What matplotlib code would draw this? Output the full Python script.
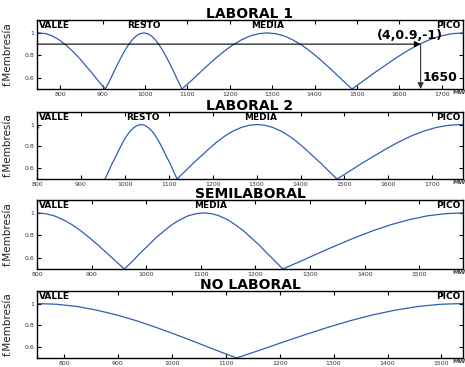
import numpy as np
import matplotlib
matplotlib.use("Agg")
import matplotlib.pyplot as plt

# membership curves (MW, membership degree)
p1_x = [745, 750, 766, 781, 797, 812, 828, 844, 859, 875, 890, 906,
        916, 925, 934, 943, 952, 961, 970, 979, 988, 997, 1006, 1015, 1024, 1033, 1042, 1051, 1060, 1069, 1078, 1087,
        1108, 1128, 1148, 1168, 1188, 1208, 1228, 1248, 1268, 1288, 1308, 1328, 1348, 1368, 1388, 1408, 1428, 1448, 1468, 1488,
        1514, 1540, 1567, 1593, 1619, 1645, 1671, 1698, 1724, 1750]
p1_y = [1.0, 1.0, .993, .973, .939, .895, .841, .779, .712, .642, .570, .50,
        .57, .642, .712, .779, .841, .895, .939, .973, .993, 1.0, .993, .973, .939, .895, .841, .779, .712, .642, .57, .50,
        .57, .642, .712, .779, .841, .895, .939, .973, .993, 1.0, .993, .973, .939, .895, .841, .779, .712, .642, .57, .50,
        .57, .642, .712, .779, .841, .895, .939, .973, .993, 1.0]

p2_x = [800, 804, np.nan,
        955, 963, 971, 980, 988, 996, 1004, 1012, 1021, 1029, 1037, 1045, 1053, 1062, 1070, 1078, 1086, 1094, 1103, 1111, 1119,
        1137, 1155, 1174, 1192, 1210, 1228, 1246, 1265, 1283, 1301, 1319, 1337, 1356, 1374, 1392, 1410, 1428, 1447, 1465, 1483,
        1511, 1539, 1568, 1596, 1624, 1652, 1680, 1709, 1737, 1765, 1770]
p2_y = [1.0, 0.97, np.nan,
        .50, .57, .642, .712, .779, .841, .895, .939, .973, .993, 1.0, .993, .973, .939, .895, .841, .779, .712, .642, .57, .50,
        .57, .642, .712, .779, .841, .895, .939, .973, .993, 1.0, .993, .973, .939, .895, .841, .779, .712, .642, .57, .50,
        .57, .642, .712, .779, .841, .895, .939, .973, .993, 1.0, 1.0]

p3_x = [800, 816, 832, 848, 864, 880, 896, 912, 928, 944, 960,
        975, 989, 1004, 1018, 1033, 1047, 1062, 1076, 1091, 1105, 1120, 1134, 1149, 1163, 1178, 1192, 1207, 1221, 1236, 1250,
        1283, 1316, 1349, 1382, 1415, 1448, 1481, 1514, 1547, 1580]
p3_y = [1.0, .993, .973, .939, .895, .841, .779, .712, .642, .570, .50,
        .57, .642, .712, .779, .841, .895, .939, .973, .993, 1.0, .993, .973, .939, .895, .841, .779, .712, .642, .57, .50,
        .57, .642, .712, .779, .841, .895, .939, .973, .993, 1.0]

p4_x = [750, 787, 824, 861, 898, 935, 972, 1009, 1046, 1083, 1120,
        1162, 1204, 1246, 1288, 1330, 1372, 1414, 1456, 1498, 1540]
p4_y = [1.0, .993, .973, .939, .895, .841, .779, .712, .642, .570, .50,
        .57, .642, .712, .779, .841, .895, .939, .973, .993, 1.0]

titles = ["LABORAL 1", "LABORAL 2", "SEMILABORAL", "NO LABORAL"]
xlims = [(745, 1750), (800, 1770), (800, 1580), (750, 1540)]
xtick_max = [1700, 1700, 1500, 1500]

# period labels: (text, x in MW) ; None -> left / right edge
labels1 = [("VALLE", None), ("RESTO", 997), ("MEDIA", 1290), ("PICO", None)]
labels2 = [("VALLE", None), ("RESTO", 1040), ("MEDIA", 1310), ("PICO", None)]
labels3 = [("VALLE", None), ("MEDIA", 1117), ("PICO", None)]
labels4 = [("VALLE", None), ("PICO", None)]

# decision annotation on first panel
cut_level = 0.9
cut_mw = 1650
cut_text = "(4,0.9,-1)"


def main():
  fig = plt.figure(figsize=(4.65, 3.67), dpi=100)
  W, H = 465.0, 367.0
  tops = [20, 112, 200, 291]
  bots = [89, 179, 269, 358]
  series = [(p1_x, p1_y), (p2_x, p2_y), (p3_x, p3_y), (p4_x, p4_y)]
  labels = [labels1, labels2, labels3, labels4]

  for i in range(4):
    ax = fig.add_axes([37 / W, 1 - bots[i] / H, 426 / W, (bots[i] - tops[i]) / H])
    x, y = series[i]
    ax.plot(x, y, color="#2f5fb3", lw=0.9)
    ax.set_xlim(*xlims[i])
    ax.set_ylim(0.5, 1.115)
    ax.set_xticks(np.arange(800, xtick_max[i] + 1, 100))
    ax.set_yticks([0.6, 0.8, 1.0])
    ax.set_yticklabels(["0.6", "0.8", "1"])
    ax.tick_params(direction="in", top=True, right=True, length=3, width=0.8,
                   labelsize=4.5, labelcolor="#333333", pad=2)
    for s in ax.spines.values():
      s.set_linewidth(1.0)
    ax.set_title(titles[i], fontsize=10, fontweight="bold", pad=1.5)
    ax.set_ylabel("f.Membresía", fontsize=7.5, color="#222222")
    ax.yaxis.set_label_coords(-0.058, 0.5)
    ax.text(0.99, -0.05, "MW", transform=ax.transAxes, fontsize=4.5,
            fontweight="bold", color="#444444", ha="center", va="center", clip_on=False)

    trans = ax.get_xaxis_transform()
    for name, xpos in labels[i]:
      if xpos is None:
        if name == "VALLE":
          ax.text(0.004, 0.985, name, transform=ax.transAxes, fontsize=6.5,
                  fontweight="bold", ha="left", va="top")
        else:
          ax.text(0.993, 0.985, name, transform=ax.transAxes, fontsize=6.5,
                  fontweight="bold", ha="right", va="top")
      else:
        ax.text(xpos, 0.985, name, transform=trans, fontsize=6.5,
                fontweight="bold", ha="center", va="top")

    if i == 0:
      ax.annotate("", xy=(cut_mw, cut_level), xytext=(xlims[0][0], cut_level),
                  arrowprops=dict(arrowstyle="-|>", color="black", lw=0.8, mutation_scale=9,
                                  shrinkA=0, shrinkB=0))
      ax.annotate("", xy=(cut_mw, 0.5), xytext=(cut_mw, cut_level),
                  arrowprops=dict(arrowstyle="-|>", color="#333333", lw=0.8, mutation_scale=9,
                                  shrinkA=0, shrinkB=0))
      ax.text(1625, 0.975, cut_text, fontsize=9, fontweight="bold", ha="center", va="center")
      ax.text(cut_mw + 5, 0.6, str(cut_mw), fontsize=9, fontweight="bold", ha="left", va="center")

  fig.savefig("out.png", dpi=100)


if __name__ == "__main__":
  main()
